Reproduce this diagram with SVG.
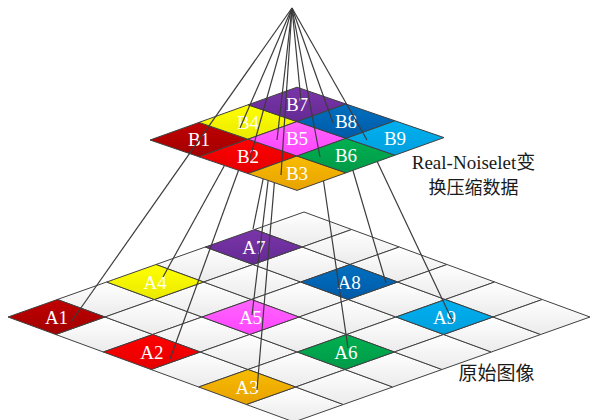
<svg xmlns="http://www.w3.org/2000/svg" width="591" height="420" viewBox="0 0 591 420">
<defs>
<linearGradient id="gw" x1="0" y1="0" x2="0" y2="1"><stop offset="0" stop-color="#ffffff"/><stop offset="1" stop-color="#ebebeb"/></linearGradient>
<linearGradient id="g1" x1="0" y1="0" x2="0" y2="1"><stop offset="0" stop-color="#c00000"/><stop offset="1" stop-color="#a20000"/></linearGradient>
<linearGradient id="g2" x1="0" y1="0" x2="0" y2="1"><stop offset="0" stop-color="#ff0000"/><stop offset="1" stop-color="#e40000"/></linearGradient>
<linearGradient id="g3" x1="0" y1="0" x2="0" y2="1"><stop offset="0" stop-color="#f8bc00"/><stop offset="1" stop-color="#e8a200"/></linearGradient>
<linearGradient id="g4" x1="0" y1="0" x2="0" y2="1"><stop offset="0" stop-color="#ffff00"/><stop offset="1" stop-color="#eaea00"/></linearGradient>
<linearGradient id="g5" x1="0" y1="0" x2="0" y2="1"><stop offset="0" stop-color="#ff66ff"/><stop offset="1" stop-color="#ff44ff"/></linearGradient>
<linearGradient id="g6" x1="0" y1="0" x2="0" y2="1"><stop offset="0" stop-color="#00b050"/><stop offset="1" stop-color="#009a48"/></linearGradient>
<linearGradient id="g7" x1="0" y1="0" x2="0" y2="1"><stop offset="0" stop-color="#7a35a8"/><stop offset="1" stop-color="#642a94"/></linearGradient>
<linearGradient id="g8" x1="0" y1="0" x2="0" y2="1"><stop offset="0" stop-color="#0070c0"/><stop offset="1" stop-color="#005aa8"/></linearGradient>
<linearGradient id="g9" x1="0" y1="0" x2="0" y2="1"><stop offset="0" stop-color="#00b0f0"/><stop offset="1" stop-color="#009fdd"/></linearGradient>
</defs>
<style>
.cell{stroke:#404040;stroke-width:1;stroke-linejoin:round}
.w{fill:url(#gw)}
.c1{fill:url(#g1)}.c2{fill:url(#g2)}.c3{fill:url(#g3)}.c4{fill:url(#g4)}.c5{fill:url(#g5)}
.c6{fill:url(#g6)}.c7{fill:url(#g7)}.c8{fill:url(#g8)}.c9{fill:url(#g9)}
.lbl{font-family:"Liberation Serif","Times New Roman",serif;font-size:19px;fill:#ffffff;text-anchor:middle}
.cap{font-family:"Liberation Serif","Noto Sans CJK SC",serif;font-size:19px;fill:#1a1a1a;text-anchor:middle}
.cn{font-family:"Noto Sans CJK SC",sans-serif;font-size:18px;fill:#1a1a1a;text-anchor:middle}
.ln{stroke:#3c3c3c;stroke-width:1.2;fill:none}
</style>
<g id="grid">
<polygon class="cell w" points="55.7,334.5 105,317 152.7,334.5 103.3,352"/>
<polygon class="cell w" points="151,369.5 200.3,352 248,369.5 198.7,387"/>
<polygon class="cell w" points="246.3,404.5 295.7,387 343.3,404.5 294,422"/>
<polygon class="cell w" points="57.3,299.5 106.7,282 154.3,299.5 105,317"/>
<polygon class="cell w" points="105,317 154.3,299.5 202,317 152.7,334.5"/>
<polygon class="cell w" points="152.7,334.5 202,317 249.7,334.5 200.3,352"/>
<polygon class="cell w" points="200.3,352 249.7,334.5 297.3,352 248,369.5"/>
<polygon class="cell w" points="248,369.5 297.3,352 345,369.5 295.7,387"/>
<polygon class="cell w" points="295.7,387 345,369.5 392.7,387 343.3,404.5"/>
<polygon class="cell w" points="154.3,299.5 203.7,282 251.3,299.5 202,317"/>
<polygon class="cell w" points="249.7,334.5 299,317 346.7,334.5 297.3,352"/>
<polygon class="cell w" points="345,369.5 394.3,352 442,369.5 392.7,387"/>
<polygon class="cell w" points="156,264.5 205.3,247 253,264.5 203.7,282"/>
<polygon class="cell w" points="203.7,282 253,264.5 300.7,282 251.3,299.5"/>
<polygon class="cell w" points="251.3,299.5 300.7,282 348.3,299.5 299,317"/>
<polygon class="cell w" points="299,317 348.3,299.5 396,317 346.7,334.5"/>
<polygon class="cell w" points="346.7,334.5 396,317 443.7,334.5 394.3,352"/>
<polygon class="cell w" points="394.3,352 443.7,334.5 491.3,352 442,369.5"/>
<polygon class="cell w" points="253,264.5 302.3,247 350,264.5 300.7,282"/>
<polygon class="cell w" points="348.3,299.5 397.7,282 445.3,299.5 396,317"/>
<polygon class="cell w" points="443.7,334.5 493,317 540.7,334.5 491.3,352"/>
<polygon class="cell w" points="254.7,229.5 304,212 351.7,229.5 302.3,247"/>
<polygon class="cell w" points="302.3,247 351.7,229.5 399.3,247 350,264.5"/>
<polygon class="cell w" points="350,264.5 399.3,247 447,264.5 397.7,282"/>
<polygon class="cell w" points="397.7,282 447,264.5 494.7,282 445.3,299.5"/>
<polygon class="cell w" points="445.3,299.5 494.7,282 542.3,299.5 493,317"/>
<polygon class="cell w" points="493,317 542.3,299.5 590,317 540.7,334.5"/>
</g>
<g id="A1"><polygon class="cell c1" points="8,317 57.3,299.5 105,317 55.7,334.5"/><text class="lbl" x="56.5" y="323.5">A1</text></g>
<g id="A2"><polygon class="cell c2" points="103.3,352 152.7,334.5 200.3,352 151,369.5"/><text class="lbl" x="151.8" y="358.5">A2</text></g>
<g id="A3"><polygon class="cell c3" points="198.7,387 248,369.5 295.7,387 246.3,404.5"/><text class="lbl" x="247.2" y="393.5">A3</text></g>
<g id="A4"><polygon class="cell c4" points="106.7,282 156,264.5 203.7,282 154.3,299.5"/><text class="lbl" x="155.2" y="288.5">A4</text></g>
<g id="A5"><polygon class="cell c5" points="202,317 251.3,299.5 299,317 249.7,334.5"/><text class="lbl" x="250.5" y="323.5">A5</text></g>
<g id="A6"><polygon class="cell c6" points="297.3,352 346.7,334.5 394.3,352 345,369.5"/><text class="lbl" x="345.8" y="358.5">A6</text></g>
<g id="A7"><polygon class="cell c7" points="205.3,247 254.7,229.5 302.3,247 253,264.5"/><text class="lbl" x="253.8" y="253.5">A7</text></g>
<g id="A8"><polygon class="cell c8" points="300.7,282 350,264.5 397.7,282 348.3,299.5"/><text class="lbl" x="349.2" y="288.5">A8</text></g>
<g id="A9"><polygon class="cell c9" points="396,317 445.3,299.5 493,317 443.7,334.5"/><text class="lbl" x="444.5" y="323.5">A9</text></g>
<g id="connectors-lower">
<line class="ln" x1="244" y1="130" x2="163" y2="277"/>
<line class="ln" x1="243" y1="158" x2="170" y2="359"/>
<line class="ln" x1="268" y1="155" x2="253" y2="229"/>
<line class="ln" x1="273" y1="140" x2="252" y2="315"/>
<line class="ln" x1="275" y1="175" x2="257" y2="390"/>
<line class="ln" x1="320" y1="157" x2="348" y2="348"/>
<line class="ln" x1="339" y1="123" x2="386" y2="283"/>
<line class="ln" x1="367" y1="140" x2="453" y2="322"/>
</g>
<g id="B1"><polygon class="cell c1" points="150,140 199,122.4 248,139.2 199,156.8"/><text class="lbl" x="199" y="146.1">B1</text></g>
<g id="B2"><polygon class="cell c2" points="199,156.8 248,139.2 297,156 248,173.6"/><text class="lbl" x="248" y="162.9">B2</text></g>
<g id="B3"><polygon class="cell c3" points="248,173.6 297,156 346,172.8 297,190.4"/><text class="lbl" x="297" y="179.7">B3</text></g>
<g id="B4"><polygon class="cell c4" points="199,122.4 248,104.8 297,121.6 248,139.2"/><text class="lbl" x="248" y="128.5">B4</text></g>
<g id="B5"><polygon class="cell c5" points="248,139.2 297,121.6 346,138.4 297,156"/><text class="lbl" x="297" y="145.3">B5</text></g>
<g id="B6"><polygon class="cell c6" points="297,156 346,138.4 395,155.2 346,172.8"/><text class="lbl" x="346" y="162.1">B6</text></g>
<g id="B7"><polygon class="cell c7" points="248,104.8 297,87.2 346,104 297,121.6"/><text class="lbl" x="297" y="110.9">B7</text></g>
<g id="B8"><polygon class="cell c8" points="297,121.6 346,104 395,120.8 346,138.4"/><text class="lbl" x="346" y="127.7">B8</text></g>
<g id="B9"><polygon class="cell c9" points="346,138.4 395,120.8 444,137.6 395,155.2"/><text class="lbl" x="395" y="144.5">B9</text></g>
<g id="connectors-upper">
<line class="ln" x1="292" y1="8" x2="71" y2="322"/>
<line class="ln" x1="292" y1="8" x2="240" y2="128"/>
<line class="ln" x1="292" y1="8" x2="249" y2="162"/>
<line class="ln" x1="292" y1="8" x2="277" y2="140"/>
<line class="ln" x1="292" y1="8" x2="281" y2="175"/>
<line class="ln" x1="292" y1="8" x2="301" y2="101"/>
<line class="ln" x1="292" y1="8" x2="320" y2="157"/>
<line class="ln" x1="292" y1="8" x2="333" y2="123"/>
<line class="ln" x1="292" y1="8" x2="367" y2="140"/>
</g>
<g id="captions">
<text class="cap" x="473.5" y="169">Real-Noiselet变</text>
<text class="cn" x="473.5" y="194">换压缩数据</text>
<text class="cn" x="496.5" y="380" style="font-size:19px">原始图像</text>
</g>
</svg>
